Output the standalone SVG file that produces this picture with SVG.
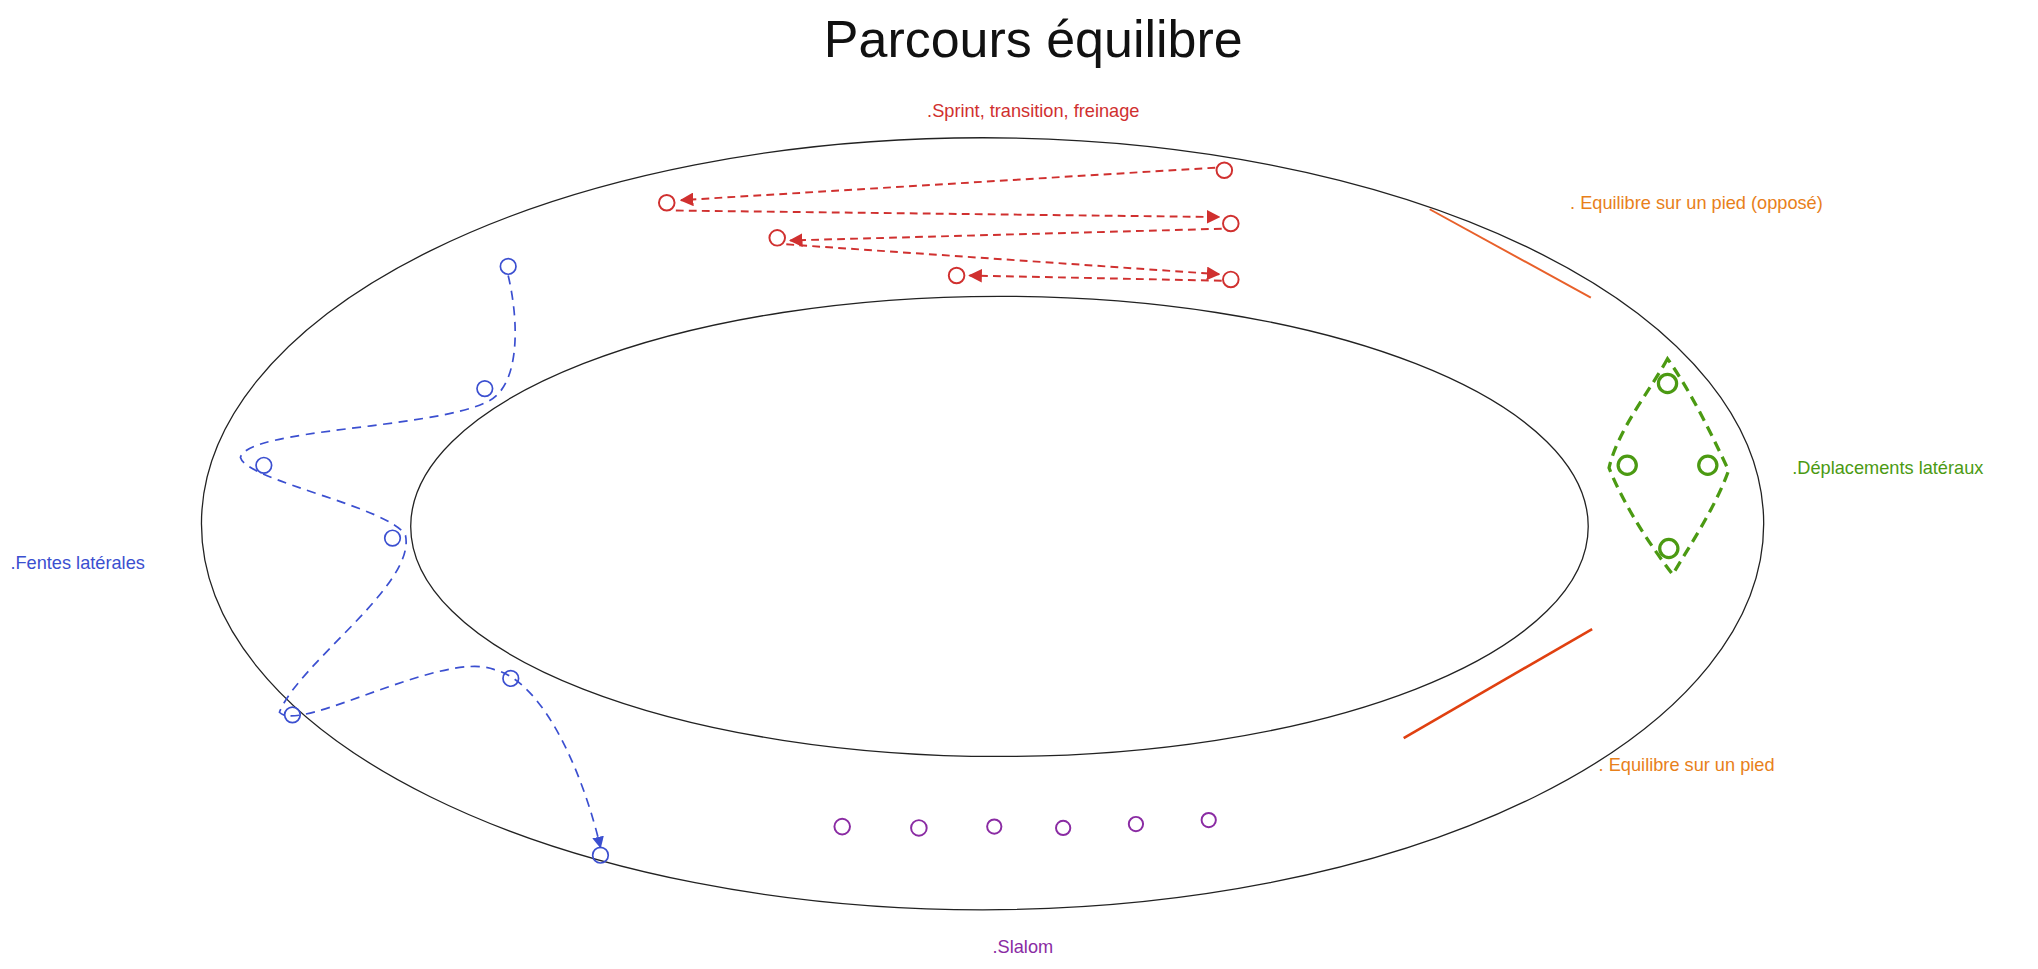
<svg xmlns="http://www.w3.org/2000/svg" width="2038" height="969" viewBox="0 0 2038 969">
<style>
text{font-family:"Liberation Sans",Arial,sans-serif}
.lbl{font-size:14px}
.r{stroke:#d0302f;fill:none;stroke-width:1.5}
.b{stroke:#3b4fd0;fill:none;stroke-width:1.3}
.g{stroke:#4b9a12;fill:none;stroke-width:2.5}
.p{stroke:#8a2ba3;fill:none;stroke-width:1.5}
</style>
<defs>
<marker id="ar" viewBox="0 0 10 10" refX="9" refY="5" markerWidth="7" markerHeight="7" orient="auto"><path d="M0,0L10,5L0,10z" fill="#d0302f"/></marker>
<marker id="ab" viewBox="0 0 10 10" refX="9" refY="5" markerWidth="7" markerHeight="7" orient="auto"><path d="M0,0L10,5L0,10z" fill="#3b4fd0"/></marker>
</defs>
<rect width="2038" height="969" fill="#fff"/>
<g transform="scale(1.2997)">
<text x="795" y="44" font-size="40" text-anchor="middle" fill="#111">Parcours équilibre</text>
<g id="track" fill="none" stroke="#222" stroke-width="1">
<ellipse cx="756" cy="403" rx="601" ry="297"/>
<ellipse cx="769" cy="405" rx="453" ry="177"/>
</g>
<g id="connectors">
<path class="r" stroke-dasharray="6 4" marker-end="url(#ar)" d="M935,129L524,154"/>
<path class="r" stroke-dasharray="6 4" marker-end="url(#ar)" d="M520,162L938,167"/>
<path class="r" stroke-dasharray="6 4" marker-end="url(#ar)" d="M940,176L608,185"/>
<path class="r" stroke-dasharray="6 4" marker-end="url(#ar)" d="M605,188L938,211"/>
<path class="r" stroke-dasharray="6 4" marker-end="url(#ar)" d="M940,216L746,212"/>
<path class="b" stroke-dasharray="7 5" marker-end="url(#ab)" d="M391,212C400,250 400,300 373,310C330,330 190,330 185,352C190,370 300,390 312,412C320,450 230,510 215,548C230,565 340,500 380,515C420,525 450,600 462,652"/>
<path class="g" stroke-width="1.5" stroke-dasharray="8 5" d="M1283,276C1270,300 1245,330 1238,360C1250,390 1270,420 1287,442C1300,420 1320,390 1330,362C1315,330 1300,300 1283,276z"/>
</g>
<g id="sprint">
<text class="lbl" x="795" y="90" text-anchor="middle" fill="#d0302f">.Sprint, transition, freinage</text>
<circle class="r" cx="942" cy="131" r="6"/><circle class="r" cx="513" cy="156" r="6"/>
<circle class="r" cx="947" cy="172" r="6"/><circle class="r" cx="598" cy="183" r="6"/>
<circle class="r" cx="947" cy="215" r="6"/><circle class="r" cx="736" cy="212" r="6"/>
</g>
<g id="pied-oppose">
<line x1="1100" y1="161" x2="1224" y2="229" stroke="#e8602a" stroke-width="1.5"/>
<text class="lbl" x="1208" y="161" fill="#e8801a">. Equilibre sur un pied (opposé)</text>
</g>
<g id="pied">
<line x1="1080" y1="568" x2="1225" y2="484" stroke="#e04010" stroke-width="2"/>
<text class="lbl" x="1230" y="593" fill="#e8801a">. Equilibre sur un pied</text>
</g>
<g id="lateraux">
<circle class="g" cx="1283" cy="295" r="7"/><circle class="g" cx="1252" cy="358" r="7"/>
<circle class="g" cx="1314" cy="358" r="7"/><circle class="g" cx="1284" cy="422" r="7"/>
<text class="lbl" x="1379" y="365" fill="#4b9a12">.Déplacements latéraux</text>
</g>
<g id="fentes">
<circle class="b" cx="391" cy="205" r="6"/><circle class="b" cx="373" cy="299" r="6"/>
<circle class="b" cx="203" cy="358" r="6"/><circle class="b" cx="302" cy="414" r="6"/>
<circle class="b" cx="225" cy="550" r="6"/><circle class="b" cx="393" cy="522" r="6"/>
<circle class="b" cx="462" cy="658" r="6"/>
<text class="lbl" x="8" y="438" fill="#3b4fd0">.Fentes latérales</text>
</g>
<g id="slalom">
<circle class="p" cx="648" cy="636" r="6"/><circle class="p" cx="707" cy="637" r="6"/>
<circle class="p" cx="765" cy="636" r="5.5"/><circle class="p" cx="818" cy="637" r="5.5"/>
<circle class="p" cx="874" cy="634" r="5.5"/><circle class="p" cx="930" cy="631" r="5.5"/>
<text class="lbl" x="787" y="733" text-anchor="middle" fill="#8a2ba3">.Slalom</text>
</g>
</g>
</svg>
